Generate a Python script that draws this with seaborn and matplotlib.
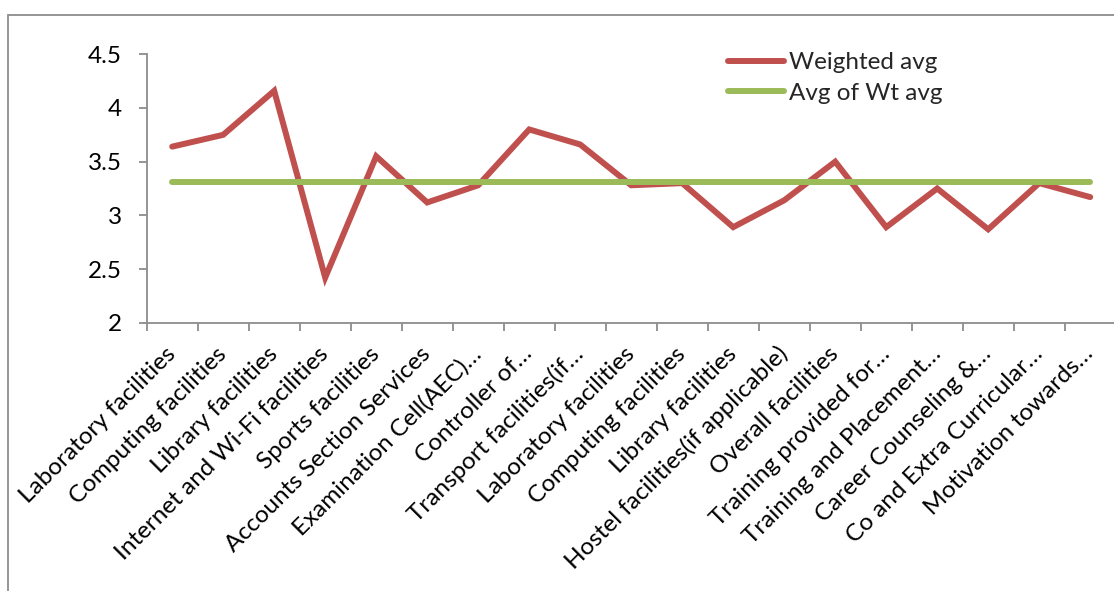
import matplotlib
matplotlib.use("Agg")
import matplotlib.pyplot as plt
import seaborn as sns
import pandas as pd
import numpy as np
from matplotlib.patches import Rectangle

categories = [
    "Laboratory facilities", "Computing facilities", "Library facilities",
    "Internet and Wi-Fi facilities", "Sports facilities", "Accounts Section Services",
    "Examination Cell(AEC)…", "Controller of…", "Transport facilities(if…",
    "Laboratory facilities", "Computing facilities", "Library facilities",
    "Hostel facilities(if applicable)", "Overall facilities", "Training provided for…",
    "Training and Placement…", "Career Counseling &…", "Co and Extra Curricular…",
    "Motivation towards…",
]
weighted_avg = [3.64, 3.75, 4.16, 2.42, 3.55, 3.12, 3.28, 3.80, 3.66, 3.28,
                3.30, 2.89, 3.14, 3.50, 2.89, 3.25, 2.87, 3.30, 3.17]
avg_of_wt_avg = [3.31] * 19
y_ticks = [2, 2.5, 3, 3.5, 4, 4.5]
y_tick_labels = ["2", "2.5", "3", "3.5", "4", "4.5"]

sns.set_theme(style="white")
plt.rcParams["font.family"] = ["Lato", "DejaVu Sans"]

W, H = 1114, 591
fig = plt.figure(figsize=(W / 100, H / 100), dpi=100)
fig.patch.set_facecolor("white")

# outer chart border (partly cropped)
fig.add_artist(Rectangle((8 / W, -0.1), 1.2, (H - 15) / H + 0.1, transform=fig.transFigure,
                         fill=False, edgecolor="#8c8c8c", linewidth=1.3))

left, right_px = 146.7, 146.7 + 19 * 51
top_px, bottom_px = 54.3, 322.7
ax = fig.add_axes([left / W, 1 - bottom_px / H, (right_px - left) / W, (bottom_px - top_px) / H])
ax.set_facecolor("none")

n = len(categories)
df = pd.DataFrame({
    "idx": list(range(n)) * 2,
    "value": weighted_avg + avg_of_wt_avg,
    "series": ["Weighted avg"] * n + ["Avg of Wt avg"] * n,
})
sns.lineplot(data=df, x="idx", y="value", hue="series",
             palette={"Weighted avg": "#C0504D", "Avg of Wt avg": "#9BBB59"},
             linewidth=4.3, ax=ax, legend=True)
for ln in ax.lines:
    ln.set_solid_capstyle("round")
    ln.set_solid_joinstyle("miter")

ax.set_xlim(-0.5, n - 0.5)
ax.set_ylim(2, 4.5)
ax.set_yticks(y_ticks)
ax.set_yticklabels(y_tick_labels)
ax.set_xticks(range(n))
ax.set_xticklabels(categories, rotation=45, ha="right", va="center", rotation_mode="anchor")
ax.set_xticks(np.arange(-0.5, n, 1), minor=True)
ax.set_xlabel("")
ax.set_ylabel("")

for s in ["top", "right"]:
    ax.spines[s].set_visible(False)
for s in ["left", "bottom"]:
    ax.spines[s].set_color("#8c8c8c")
    ax.spines[s].set_linewidth(1.3)

ax.tick_params(axis="y", which="major", length=6, width=1.3, color="#8c8c8c",
               left=True, labelsize=17.5, pad=12, labelcolor="black")
ax.tick_params(axis="x", which="major", length=0, labelsize=17.5, pad=20, labelcolor="black")
ax.tick_params(axis="x", which="minor", length=6, width=1.3, color="#8c8c8c", bottom=True)

handles, labels = ax.get_legend_handles_labels()
leg = ax.legend(handles, labels, loc="upper left", bbox_to_anchor=(728 / W, 1 - 52 / H),
                bbox_transform=fig.transFigure, frameon=False, fontsize=17.5,
                handlelength=2.3, handletextpad=0.2, labelspacing=0.4, borderpad=0,
                borderaxespad=0)
for h in leg.get_lines():
    h.set_linewidth(4.3)
    h.set_solid_capstyle("round")

fig.savefig("out.png", dpi=100, facecolor="white")
